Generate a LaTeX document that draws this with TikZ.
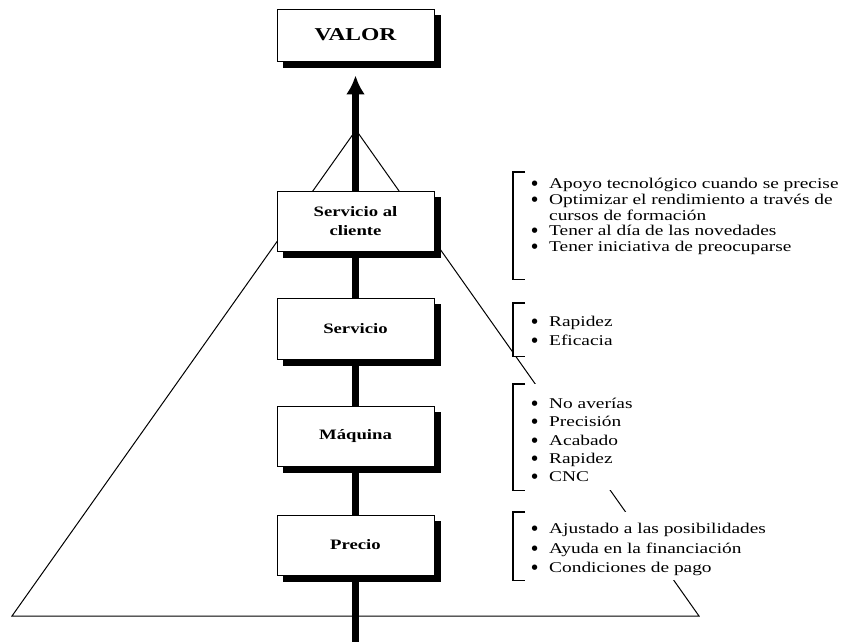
\documentclass[tikz,border=0pt]{standalone}
\usepackage{fontspec}
\setmainfont[FakeStretch=1.3]{Liberation Serif}
\newfontfamily\bulfont{DejaVu Sans}
\usetikzlibrary{arrows.meta,calc}
\pgfdeclarelayer{paper}
\pgfdeclarelayer{shade}
\pgfsetlayers{paper,shade,main}
\newcommand{\lbul}{\raisebox{3pt}{\bulfont\fontsize{7}{7}\selectfont ●}\hspace{11.4pt}}
\newcommand{\lind}{\phantom{\bulfont\fontsize{7}{7}\selectfont ●}\hspace{11.4pt}}
\begin{document}
\begin{tikzpicture}[x=1pt,y=-1pt,
  stage/.style={draw=black, line width=0.9pt, fill=white, minimum width=157pt,
    minimum height=60pt, inner sep=0pt, align=center,
    font=\bfseries\fontsize{14.4}{18.5}\selectfont},
  shadowbox/.style={fill=black},
  listbox/.style={fill=white, inner sep=0pt, anchor=north west},
  listtext/.style={anchor=west, align=left, inner sep=0pt},
  bracket/.style={line width=1.1pt},
  spine/.style={line width=6.5pt},
  pyramid/.style={line width=1pt, line join=miter}]
\useasboundingbox (0,0) rectangle (846,642);
\begin{pgfonlayer}{paper}
  \fill[white] (0,0) rectangle (846,642);
\end{pgfonlayer}

% pyramid
\coordinate (apex) at (356,130);
\coordinate (bl) at (12,616);
\coordinate (br) at (699,616);
\draw[pyramid] (apex) -- (bl) -- (br) -- cycle;

% list blocks
\node[listbox, minimum width=333pt, minimum height=107pt] (l1) at (513,172) {};
\node[listbox, minimum width=110pt, minimum height=53pt] (l2) at (513,303) {};
\node[listbox, minimum width=140pt, minimum height=106pt] (l3) at (513,384) {};
\node[listbox, minimum width=265pt, minimum height=68pt] (l4) at (513,512) {};
\foreach \b in {l1,l2,l3,l4}{
  \draw[bracket] ($(\b.north west)+(12,0)$) -- (\b.north west) -- (\b.south west) -- ($(\b.south west)+(12,0)$);
}
\node[listtext, font=\fontsize{14.9}{15.75}\selectfont] (t1) at (531.5,216.5)
  {\lbul Apoyo tecnológico cuando se precise\\
   \lbul Optimizar el rendimiento a través de\\
   \lind cursos de formación\\
   \lbul Tener al día de las novedades\\
   \lbul Tener iniciativa de preocuparse};
\node[listtext, font=\fontsize{14.9}{18.3}\selectfont] (t2) at (531.5,331)
  {\lbul Rapidez\\ \lbul Eficacia};
\node[listtext, font=\fontsize{14.9}{18.3}\selectfont] (t3) at (531.5,440)
  {\lbul No averías\\ \lbul Precisión\\ \lbul Acabado\\ \lbul Rapidez\\ \lbul CNC};
\node[listtext, font=\fontsize{14.9}{19.5}\selectfont] (t4) at (531.5,549.5)
  {\lbul Ajustado a las posibilidades\\ \lbul Ayuda en la financiación\\ \lbul Condiciones de pago};

% stages
\node[stage, minimum height=52pt, font=\bfseries\fontsize{18.1}{20}\selectfont] (valor) at (355.5,35) {VALOR};
\node[stage] (sac) at (355.5,221) {\raisebox{-2pt}{\parbox{150pt}{\centering Servicio al\\cliente}}};
\node[stage, minimum height=61pt] (serv) at (355.5,328.5) {Servicio};
\node[stage] (maq) at (355.5,436.5) {Máquina};
\node[stage] (precio) at (355.5,545) {Precio};
\begin{pgfonlayer}{shade}
  \foreach \s in {valor,sac,serv,maq,precio}{
    \fill[shadowbox] ($(\s.north west)+(6,6)$) rectangle ($(\s.south east)+(6.5,6.5)$);
  }
\end{pgfonlayer}

% spine
\coordinate (base) at (355.5,642);
\draw[spine] (base) -- (precio.south);
\draw[spine] (precio.north) -- (maq.south);
\draw[spine] (maq.north) -- (serv.south);
\draw[spine] (serv.north) -- (sac.south);
\draw[spine, -{Latex[length=19pt,width=19pt]}, shorten >=14pt] (sac.north) -- (valor.south);
\end{tikzpicture}
\end{document}
